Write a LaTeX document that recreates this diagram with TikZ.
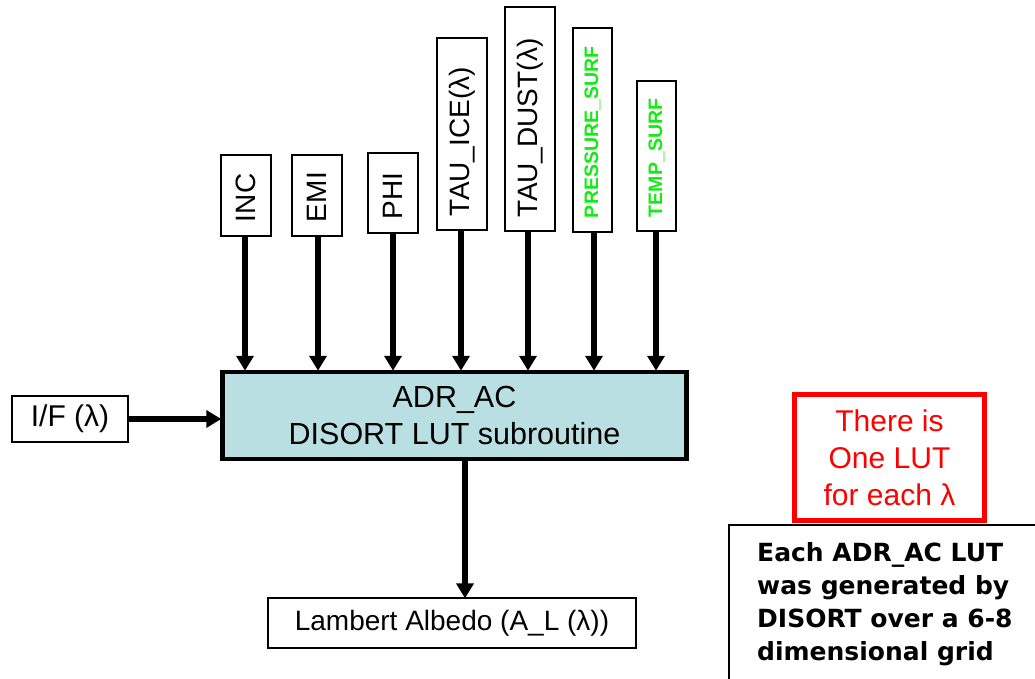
\documentclass[tikz,border=0pt]{standalone}
\usepackage{fontspec}
\setmainfont{Liberation Sans}
\newfontfamily\notefont{DejaVu Sans}
\usetikzlibrary{arrows.meta,calc}
\definecolor{boxteal}{RGB}{185,223,226}
\definecolor{paramgreen}{RGB}{20,235,20}
\definecolor{notered}{RGB}{255,0,0}
\tikzset{
  param/.style={draw, line width=1.3pt, rotate=90, inner xsep=14pt, inner ysep=0pt,
    align=left, font=\fontsize{28}{30}\selectfont},
  gparam/.style={param, text=paramgreen, font=\bfseries\fontsize{19.5}{21}\selectfont},
  plain/.style={draw, line width=1.3pt, inner sep=0pt, font=\fontsize{30}{32}\selectfont},
  feed/.style={line width=5.5pt, -{Triangle[length=15pt,width=17pt]}, shorten >=-1pt}
}
\begin{document}
\begin{tikzpicture}[x=1pt,y=1pt]
\useasboundingbox (0,0) rectangle (1035,-679);

% vertical input parameter boxes (rotated: text width = height - 28, min height = box width)
\node[param, text width=53pt, minimum height=50pt] (inc) at (246,-195.5) {INC};
\node[param, text width=53pt, minimum height=50pt] (emi) at (317,-195.5) {EMI};
\node[param, text width=52pt, minimum height=50pt] (phi) at (393,-193) {PHI};
\node[param, text width=164pt, minimum height=50pt] (tice) at (462,-134) {TAU\_ICE(λ)};
\node[param, text width=196pt, minimum height=50pt] (tdust) at (530,-119) {TAU\_DUST(λ)};
\node[gparam, text width=176pt, minimum height=39pt] (psurf) at (592.5,-130) {PRESSURE\_SURF};
\node[gparam, text width=122pt, minimum height=39pt] (tsurf) at (656.5,-156) {TEMP\_SURF};

% central subroutine block
\node[draw, line width=4.5pt, fill=boxteal, minimum width=464pt, minimum height=87pt,
  align=center, font=\fontsize{30.5}{37}\selectfont] (adr) at (454.5,-415.5)
  {ADR\_AC\\DISORT LUT subroutine};

% reflectance input and albedo output
\node[plain, minimum width=116pt, minimum height=46pt] (iof) at (70,-419) {I/F (λ)};
\node[plain, minimum width=368pt, minimum height=50pt, font=\fontsize{28}{30}\selectfont]
  (alb) at (452,-623) {Lambert Albedo (A\_L (λ))};

% notes
\node[draw=notered, line width=4.5pt, text=notered, minimum width=190pt, minimum height=126pt,
  align=center, font=\fontsize{30}{37}\selectfont] (note) at (889.5,-457.5)
  {There is\\One LUT\\for each λ};
\draw[line width=1.3pt] (729,-690) |- (1045,-525);
\node[anchor=north west, align=left, inner sep=0pt,
  font=\notefont\bfseries\fontsize{25}{33}\selectfont] (grid) at (757,-542)
  {Each ADR\_AC LUT\\was generated by\\DISORT over a 6-8\\dimensional grid};

% connectors into and out of the block
\foreach \p/\x in {inc/245, emi/318, phi/393, tice/461, tdust/528, psurf/594, tsurf/656}{
  \coordinate (col) at (\x,0);
  \draw[feed] (col |- \p.west) -- (col |- adr.north);
}
\draw[feed] (iof.east) -- (adr.west |- iof.east);
\coordinate (outcol) at (465,0);
\draw[feed] (outcol |- adr.south) -- (outcol |- alb.north);
\end{tikzpicture}
\end{document}
